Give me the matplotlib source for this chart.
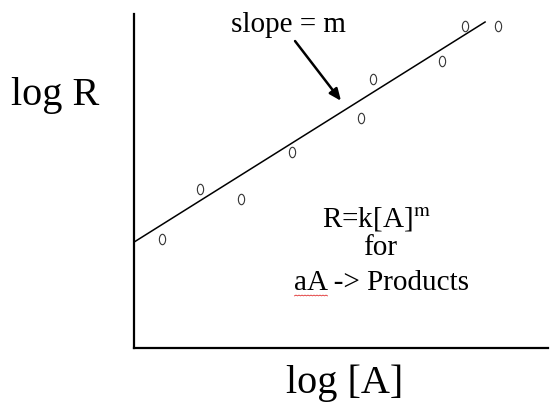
import numpy as np
import matplotlib
matplotlib.use('Agg')
import matplotlib.pyplot as plt
from matplotlib.path import Path
from matplotlib.transforms import Affine2D, IdentityTransform

plt.rcParams['font.family'] = ['Liberation Serif', 'DejaVu Serif']
plt.rcParams['mathtext.fontset'] = 'stix'

# data (axis units 0..10 on both axes)
log_A = [0.67, 1.59, 2.58, 3.82, 5.48, 5.77, 7.43, 8.00, 8.79]
log_R = [3.26, 4.76, 4.46, 5.87, 6.89, 8.05, 8.59, 9.64, 9.64]

# best fit line ends
fit_x = [0.0, 8.48]
fit_y = [3.17, 9.76]

# arrow "slope = m"
arrow_tail = (3.89, 9.19)
arrow_tip = (5.0, 7.40)

fig = plt.figure(figsize=(5.5, 4.1), dpi=100)
ax = fig.add_axes([134 / 550, 61 / 410, 414 / 550, 334 / 410])
ax.set_xlim(0, 10)
ax.set_ylim(0, 10)

ax.plot(fit_x, fit_y, color='black', lw=1.1)

# points are drawn as small open "0" ovals
oval = Path.unit_circle().transformed(Affine2D().scale(0.6, 1.0))
ax.plot(log_A, log_R, linestyle='none', marker=oval, markersize=7.5,
        markerfacecolor='none', markeredgecolor='#333333', markeredgewidth=0.8)

ax.annotate('', xy=arrow_tip, xytext=arrow_tail,
            arrowprops=dict(arrowstyle='-|>,head_length=0.7,head_width=0.3',
                            color='black', lw=1.8, shrinkA=0, shrinkB=0))

ax.text(3.72, 9.49, 'slope = m', fontsize=21, ha='center', va='baseline')
ax.text(5.87, 3.65, r'R=k[A]$^{\mathrm{m}}$', fontsize=21, ha='center', va='baseline')
ax.text(5.95, 2.81, 'for', fontsize=21, ha='center', va='baseline')
t = ax.text(5.99, 1.77, 'aA -> Products', fontsize=21, ha='center', va='baseline')

# only the two axis lines, no ticks
for s in ['top', 'right']:
    ax.spines[s].set_visible(False)
for s in ['left', 'bottom']:
    ax.spines[s].set_linewidth(1.6)
ax.set_xticks([])
ax.set_yticks([])

fig.text(55 / 550, 1 - 105 / 410, 'log R', fontsize=29, ha='center', va='baseline')
fig.text(345 / 550, 1 - 393 / 410, 'log [A]', fontsize=29, ha='center', va='baseline')

# red spell-check squiggle under "aA"
fig.canvas.draw()
r = fig.canvas.get_renderer()
bb = t.get_window_extent(r)
tmp = ax.text(0, 0, 'aA', fontsize=21)
w = tmp.get_window_extent(r).width
tmp.remove()
sx = np.arange(bb.x0, bb.x0 + w, 1.5)
sy = bb.y0 - 1 + 0.8 * (np.arange(len(sx)) % 2)
fig.add_artist(plt.Line2D(sx, sy, color='#e03030', lw=0.6, transform=IdentityTransform()))

fig.savefig('out.png', dpi=100)
